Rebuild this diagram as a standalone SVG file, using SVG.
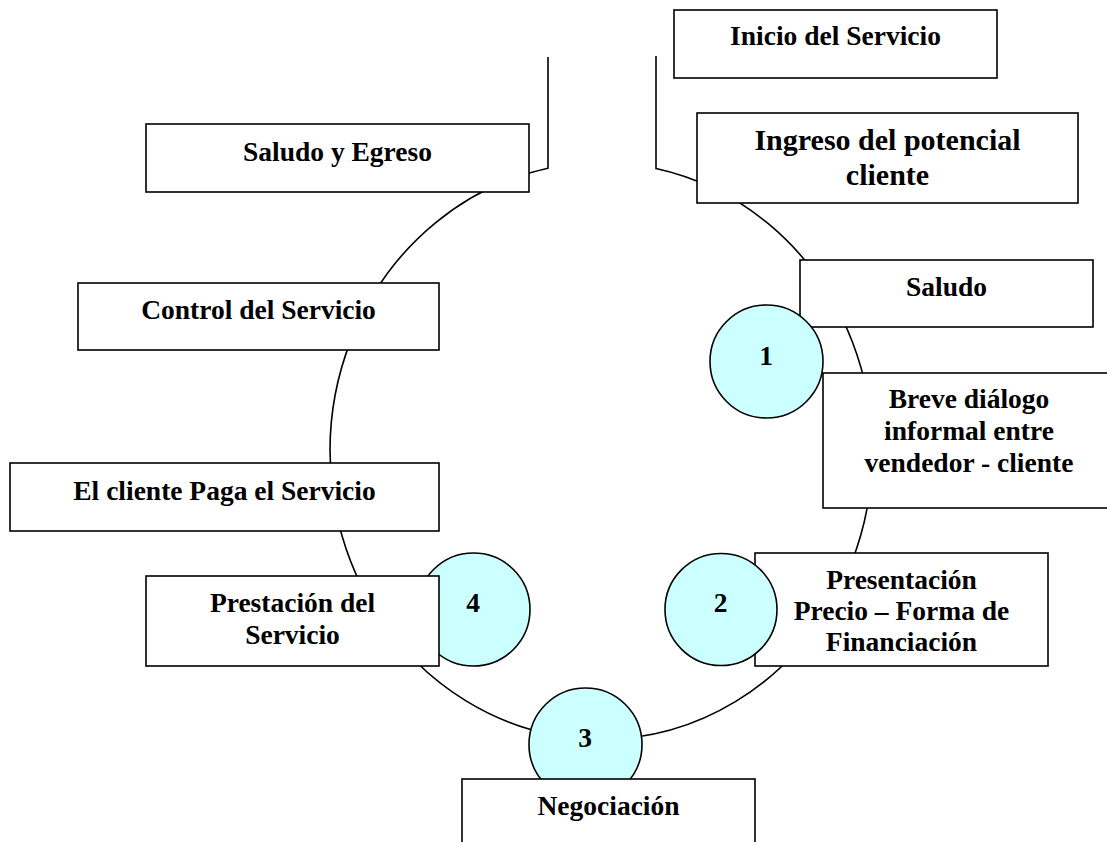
<svg xmlns="http://www.w3.org/2000/svg" width="1107" height="842" viewBox="0 0 1107 842">
  <style>
    .box { fill: #ffffff; stroke: #000000; stroke-width: 1.6; }
    .step { fill: #ccffff; stroke: #000000; stroke-width: 1.6; }
    .line { fill: none; stroke: #000000; stroke-width: 1.6; }
    .lbl { font-family: "Liberation Serif", "Times New Roman", serif; font-weight: bold; font-size: 27.5px; fill: #000000; text-anchor: middle; }
    .big { font-size: 30px; }
  </style>
  <rect x="0" y="0" width="1107" height="842" fill="#ffffff"/>

  <!-- service cycle: open ring with an entry/exit gap at the top -->
  <g id="connectors">
    <path class="line" d="M548,57 V168.2 A271.2,288.4 0 1 0 656,168.5 V56"/>
  </g>

  <g id="inicio">
    <rect class="box" x="674" y="10" width="323" height="68"/>
    <text class="lbl" x="835.5" y="45">Inicio del Servicio</text>
  </g>

  <g id="ingreso">
    <rect class="box" x="697" y="113" width="381" height="90"/>
    <text class="lbl big" x="887.5" y="150">Ingreso del potencial</text>
    <text class="lbl big" x="887.5" y="185">cliente</text>
  </g>

  <g id="saludo-egreso">
    <rect class="box" x="146" y="124" width="383" height="68"/>
    <text class="lbl" x="337.5" y="161">Saludo y Egreso</text>
  </g>

  <g id="saludo">
    <rect class="box" x="800" y="260" width="293" height="67"/>
    <text class="lbl" x="946.5" y="296">Saludo</text>
  </g>

  <g id="paso-1">
    <circle class="step" cx="766.5" cy="361.5" r="56.5"/>
    <text class="lbl" x="766" y="365">1</text>
  </g>

  <g id="control">
    <rect class="box" x="78" y="283" width="361" height="67"/>
    <text class="lbl" x="258.5" y="319">Control del Servicio</text>
  </g>

  <g id="dialogo">
    <rect class="box" x="823" y="373" width="292" height="135"/>
    <text class="lbl" x="969" y="408">Breve diálogo</text>
    <text class="lbl" x="969" y="440">informal entre</text>
    <text class="lbl" x="969" y="472">vendedor - cliente</text>
  </g>

  <g id="pago">
    <rect class="box" x="10" y="463" width="429" height="68"/>
    <text class="lbl" x="224.5" y="500">El cliente Paga el Servicio</text>
  </g>

  <g id="presentacion">
    <rect class="box" x="755" y="553" width="293" height="113"/>
    <text class="lbl" x="901.5" y="589">Presentación</text>
    <text class="lbl" x="901.5" y="620">Precio – Forma de</text>
    <text class="lbl" x="901.5" y="651">Financiación</text>
  </g>

  <g id="paso-2">
    <circle class="step" cx="721" cy="609.5" r="56"/>
    <text class="lbl" x="720.5" y="612">2</text>
  </g>

  <g id="paso-4">
    <circle class="step" cx="473.5" cy="609.5" r="56.5"/>
    <text class="lbl" x="473" y="612">4</text>
  </g>

  <g id="prestacion">
    <rect class="box" x="146" y="576" width="293" height="90"/>
    <text class="lbl" x="292.5" y="612">Prestación del</text>
    <text class="lbl" x="292.5" y="644">Servicio</text>
  </g>

  <g id="paso-3">
    <circle class="step" cx="585.5" cy="744.5" r="56.5"/>
    <text class="lbl" x="585" y="747">3</text>
  </g>

  <g id="negociacion">
    <rect class="box" x="462" y="779" width="293" height="80"/>
    <text class="lbl" x="608.5" y="815">Negociación</text>
  </g>
</svg>
